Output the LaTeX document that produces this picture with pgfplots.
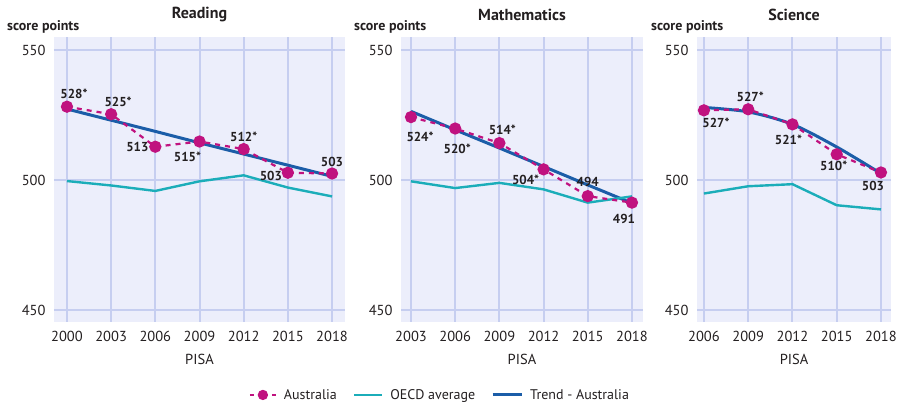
\documentclass[border=0pt]{standalone}
\usepackage{pgfplots}
\pgfplotsset{compat=1.18}
\usepackage{fontspec}
\setmainfont{PT Sans}
\definecolor{aus}{HTML}{C0127F}
\definecolor{oecd}{HTML}{1BADB9}
\definecolor{trend}{HTML}{1B5DA8}
\definecolor{bg}{HTML}{ECEEFB}
\definecolor{gridc}{HTML}{C6CEF0}
\definecolor{txt}{HTML}{231F20}
\pgfplotsset{
  base/.style={
    scale only axis, height=285pt, anchor=south west,
    ymin=445.5, ymax=555.1, ytick={450,500,550},
    axis line style={draw=none}, tick style={draw=none},
    axis background/.style={fill=bg},
    grid=major, grid style={gridc, line width=2pt},
    /pgf/number format/assume math mode=true,
    /pgf/number format/1000 sep={},
    ticklabel style={font=\fontsize{14.5}{16}\selectfont, text=txt},
    yticklabel style={anchor=east, xshift=-5pt},
    xticklabel style={anchor=base, yshift=-20pt},
    xlabel={PISA},
    xlabel style={at={(0.5,0)}, anchor=base, yshift=-43pt, font=\fontsize{14.5}{16}\selectfont, text=txt},
    title style={at={(0.5,1)}, anchor=center, yshift=16pt, font=\bfseries\fontsize{16}{18}\selectfont, text=txt},
    clip=false,
  },
  ausp/.style={aus, line width=2.2pt, dash pattern=on 5pt off 5pt, mark=*, mark size=5pt, mark options={solid, fill=aus, draw=aus}},
  oecdp/.style={oecd, line width=2.4pt, no marks},
  trendp/.style={trend, line width=3pt, no marks},
  ausleg/.style={ausp, legend image code/.code={
    \draw[##1, solid] (0pt,0pt) -- (4pt,0pt);
    \draw[##1, solid] (22pt,0pt) -- (26pt,0pt);
    \draw[##1, solid, mark size=4pt] plot coordinates {(13pt,0pt)};
    \path (31pt,0pt);}},
  oecdleg/.style={oecdp, legend image code/.code={\draw[##1] (0pt,0pt) -- (28pt,0pt); \path (33pt,0pt);}},
  trendleg/.style={trendp, legend image code/.code={\draw[##1] (0pt,0pt) -- (29pt,0pt); \path (34pt,0pt);}},
}
\tikzset{
  lbl/.style={font=\bfseries\fontsize{13}{15}\selectfont, text=txt, inner sep=0pt},
  sp/.style={font=\bfseries\fontsize{14}{16}\selectfont, text=txt, anchor=west, inner sep=0pt},
}
\newcommand{\lbl}[4]{\node[lbl, xshift=#3pt, yshift=#4pt] at (axis cs:#1) {#2};}
\begin{document}
\begin{tikzpicture}
\useasboundingbox (0,0) rectangle (898pt,406pt);
% ---------------- Reading
\begin{axis}[base, at={(54pt,84pt)}, width=291pt, xmin=1999.12, xmax=2018.88,
  xtick={2000,2003,2006,2009,2012,2015,2018}, title={Reading},
  legend columns=3,
  legend style={at={(1.326,-0.256)}, anchor=center, draw=none, fill=none,
    font=\fontsize{14}{16}\selectfont, text=txt,
    /tikz/every even column/.append style={column sep=14pt}},
  ]
\addplot[trendp, forget plot] coordinates {(2000,527.4) (2003,523.1) (2006,518.8) (2009,514.4) (2012,510.1) (2015,505.8) (2018,501.5)};
\addplot[oecdp, forget plot] coordinates {(2000,499.7) (2003,498.0) (2006,495.9) (2009,499.6) (2012,501.9) (2015,497.2) (2018,493.8)};
\addplot[ausp, forget plot] coordinates {(2000,528.3) (2003,525.4) (2006,512.9) (2009,514.9) (2012,512.0) (2015,502.9) (2018,502.6)};
\addlegendimage{ausleg}
\addlegendentry{Australia}
\addlegendimage{oecdleg}
\addlegendentry{OECD average}
\addlegendimage{trendleg}
\addlegendentry{Trend - Australia}
\lbl{2000,528.3}{528*}{7}{13}
\lbl{2003,525.4}{525*}{7}{12}
\lbl{2006,512.9}{513}{-18}{0}
\lbl{2009,514.9}{515*}{-12}{-15}
\lbl{2012,512.0}{512*}{0}{12}
\lbl{2015,502.9}{503}{-17}{-3}
\lbl{2018,502.6}{503}{0}{12}
\node[sp, xshift=-47pt, yshift=10pt] at (rel axis cs:0,1) {score points};
\end{axis}
% ---------------- Mathematics
\begin{axis}[base, at={(401pt,84pt)}, width=242pt, xmin=2002.32, xmax=2018.75,
  xtick={2003,2006,2009,2012,2015,2018}, title={Mathematics}]
\addplot[trendp] coordinates {(2003,526.5) (2006,519.4) (2009,512.4) (2012,505.3) (2015,498.2) (2018,491.2)};
\addplot[oecdp] coordinates {(2003,499.6) (2006,497.0) (2009,499.0) (2012,496.5) (2015,491.4) (2018,493.8)};
\addplot[ausp] coordinates {(2003,524.3) (2006,519.9) (2009,514.3) (2012,504.2) (2015,493.9) (2018,491.4)};
\lbl{2003,524.3}{524*}{9}{-20}
\lbl{2006,519.9}{520*}{2}{-20}
\lbl{2009,514.3}{514*}{3}{13}
\lbl{2012,504.2}{504*}{-18}{-10}
\lbl{2015,493.9}{494}{0}{14}
\lbl{2018,491.4}{491}{-8}{-16}
\node[sp, xshift=-47pt, yshift=10pt] at (rel axis cs:0,1) {score points};
\end{axis}
% ---------------- Science
\begin{axis}[base, at={(697pt,84pt)}, width=194pt, xmin=2005.53, xmax=2018.68,
  xtick={2006,2009,2012,2015,2018}, title={Science}]
\addplot[trendp, smooth] coordinates {(2006,528.0) (2009,526.3) (2012,521.5) (2015,512.8) (2018,502.6)};
\addplot[oecdp] coordinates {(2006,494.9) (2009,497.7) (2012,498.5) (2015,490.4) (2018,488.8)};
\addplot[ausp] coordinates {(2006,526.9) (2009,527.3) (2012,521.5) (2015,510.0) (2018,503.0)};
\lbl{2006,526.9}{527*}{12}{-13}
\lbl{2009,527.3}{527*}{2}{12}
\lbl{2012,521.5}{521*}{-4}{-15}
\lbl{2015,510.0}{510*}{-3}{-12}
\lbl{2018,503.0}{503}{-8}{-13}
\node[sp, xshift=-46pt, yshift=10pt] at (rel axis cs:0,1) {score points};
\end{axis}
\end{tikzpicture}
\end{document}
